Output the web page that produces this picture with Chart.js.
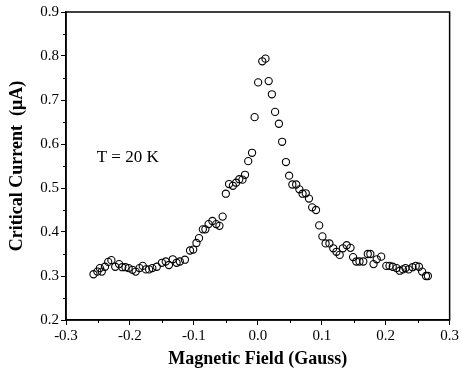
<!DOCTYPE html>
<html>
<head>
<meta charset="utf-8">
<script src="https://cdn.jsdelivr.net/npm/chart.js@4/dist/chart.umd.min.js"></script>
<style>
  html,body{margin:0;padding:0;background:#fff;}
  #wrap{width:461px;height:377px;position:relative;}
</style>
</head>
<body>
<div id="wrap"><canvas id="c" width="461" height="377"></canvas></div>
<script>
// Magnetic field (Gauss)
const fieldX = [-0.257,-0.251,-0.247,-0.244,-0.239,-0.234,-0.229,-0.223,-0.217,-0.212,
  -0.207,-0.202,-0.196,-0.191,-0.185,-0.180,-0.175,-0.170,-0.165,-0.158,
  -0.150,-0.144,-0.139,-0.133,-0.127,-0.122,-0.114,-0.106,-0.101,-0.096,
  -0.092,-0.086,-0.082,-0.077,-0.071,-0.065,-0.060,-0.055,-0.050,-0.045,
  -0.039,-0.034,-0.029,-0.024,-0.020,-0.015,-0.009,-0.005,0.0005,0.007,
  0.012,0.017,0.022,0.027,0.033,0.038,0.044,0.049,0.054,0.060,
  0.065,0.070,0.075,0.080,0.085,0.091,0.096,0.101,0.106,0.112,
  0.118,0.123,0.128,0.133,0.139,0.145,0.149,0.154,0.159,0.165,
  0.172,0.176,0.181,0.186,0.193,0.201,0.206,0.211,0.217,0.222,
  0.227,0.231,0.236,0.242,0.247,0.252,0.257,0.263,0.266];
// Critical current (uA)
const currentY = [0.304,0.310,0.318,0.310,0.321,0.332,0.336,0.321,0.327,0.320,
  0.320,0.318,0.314,0.310,0.318,0.323,0.315,0.315,0.318,0.321,
  0.330,0.333,0.325,0.338,0.330,0.333,0.337,0.358,0.360,0.375,
  0.386,0.406,0.406,0.418,0.425,0.418,0.414,0.435,0.487,0.509,
  0.505,0.512,0.520,0.519,0.530,0.561,0.580,0.661,0.740,0.788,
  0.794,0.743,0.713,0.673,0.646,0.605,0.559,0.528,0.508,0.508,
  0.497,0.487,0.488,0.476,0.456,0.450,0.415,0.390,0.374,0.374,
  0.363,0.355,0.348,0.363,0.370,0.364,0.343,0.333,0.333,0.333,
  0.350,0.350,0.327,0.338,0.344,0.323,0.323,0.321,0.318,0.312,
  0.315,0.318,0.315,0.320,0.323,0.321,0.310,0.300,0.300];
const xTicks = [-0.3,-0.2,-0.1,0.0,0.1,0.2,0.3];
const yTicks = [0.2,0.3,0.4,0.5,0.6,0.7,0.8,0.9];
const annotation = {text:'T = 20 K', x:-0.252, y:0.570};

const serif = '"Liberation Serif", "Times New Roman", serif';

const framePlugin = {
  id:'frame',
  afterDraw(chart){
    const ctx = chart.ctx, a = chart.chartArea;
    const xs = chart.scales.x, ys = chart.scales.y;
    ctx.save();
    ctx.strokeStyle = '#000';
    ctx.lineWidth = 1.5;
    ctx.strokeRect(a.left, a.top, a.right - a.left, a.bottom - a.top);
    ctx.lineWidth = 1;
    ctx.beginPath();
    for (let i = 0; i < xTicks.length - 1; i++){
      const px = Math.round(xs.getPixelForValue((xTicks[i] + xTicks[i+1]) / 2)) + 0.5;
      ctx.moveTo(px, a.bottom); ctx.lineTo(px, a.bottom + 3);
    }
    for (let i = 0; i < yTicks.length - 1; i++){
      const py = Math.round(ys.getPixelForValue((yTicks[i] + yTicks[i+1]) / 2)) + 0.5;
      ctx.moveTo(a.left, py); ctx.lineTo(a.left - 3, py);
    }
    ctx.stroke();
    ctx.fillStyle = '#000';
    ctx.font = '17px ' + serif;
    ctx.textAlign = 'left';
    ctx.textBaseline = 'middle';
    ctx.fillText(annotation.text, xs.getPixelForValue(annotation.x), ys.getPixelForValue(annotation.y));
    ctx.restore();
  }
};

new Chart(document.getElementById('c'), {
  type:'scatter',
  data:{
    datasets:[{
      data: fieldX.map((x,i)=>({x:x, y:currentY[i]})),
      pointStyle:'circle',
      pointRadius:3.6,
      pointBorderWidth:1.1,
      pointBorderColor:'#000',
      pointBackgroundColor:'rgba(255,255,255,0)',
      showLine:false
    }]
  },
  options:{
    responsive:false,
    animation:false,
    events:[],
    layout:{padding:{top:12,right:11,left:7,bottom:7}},
    plugins:{legend:{display:false},tooltip:{enabled:false}},
    scales:{
      x:{
        type:'linear', min:-0.3, max:0.3,
        afterBuildTicks(s){ s.ticks = xTicks.map(v=>({value:v})); },
        afterFit(s){ s.height = 50; },
        ticks:{
          color:'#000', font:{family:serif, size:15}, padding:2,
          maxRotation:0, autoSkip:false,
          callback:(v)=>Number(v).toFixed(1)
        },
        grid:{drawOnChartArea:false, drawTicks:true, tickLength:5, color:'#000', lineWidth:1},
        border:{display:true, color:'#000', width:1.5},
        title:{display:true, text:'Magnetic Field (Gauss)', color:'#000',
          font:{family:serif, size:18, weight:'bold'}, padding:{top:2,bottom:0}}
      },
      y:{
        type:'linear', min:0.2, max:0.9,
        afterBuildTicks(s){ s.ticks = yTicks.map(v=>({value:v})); },
        afterFit(s){ s.width = 59; },
        ticks:{
          color:'#000', font:{family:serif, size:15}, padding:2, autoSkip:false,
          callback:(v)=>Number(v).toFixed(1)
        },
        grid:{drawOnChartArea:false, drawTicks:true, tickLength:5, color:'#000', lineWidth:1},
        border:{display:true, color:'#000', width:1.5},
        title:{display:true, text:'Critical Current  (\u03bcA)', color:'#000',
          font:{family:serif, size:18, weight:'bold'}, padding:{top:0,bottom:4}}
      }
    }
  },
  plugins:[framePlugin]
});
</script>
</body>
</html>
